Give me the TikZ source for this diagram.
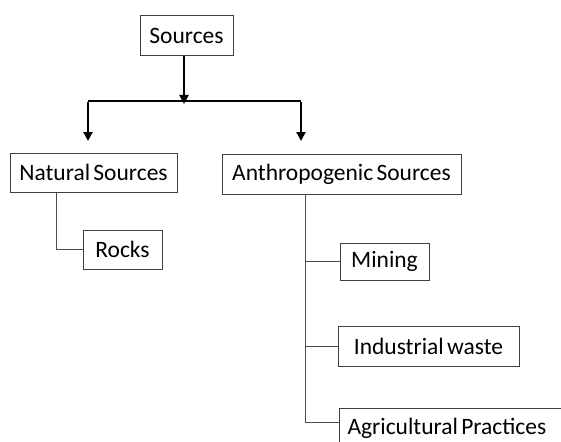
\documentclass[tikz,border=0pt]{standalone}
\usepackage{fontspec}
\setmainfont{Carlito}
\usetikzlibrary{arrows.meta}
\newcommand{\boxfont}{\fontsize{23.5}{25}\selectfont\spaceskip=0.14em\relax}
\begin{document}
\begin{tikzpicture}[x=1pt,y=-1pt,
  box/.style={draw=black!75,line width=1pt,font=\boxfont,inner sep=0pt,text=black},
  thick arrow/.style={line width=2.4pt,-{Triangle[length=9pt,width=9pt]}},
  link/.style={draw=black!70,line width=1pt}]
\useasboundingbox (0,0) rectangle (561,441);
\clip (0,0) rectangle (561,441);
\node[box,minimum width=93pt,minimum height=40pt] (src) at (186.5,36) {Sources};
\node[box,minimum width=167pt,minimum height=39pt] (nat) at (93.5,172.5) {Natural Sources};
\node[box,minimum width=239pt,minimum height=40pt] (anth) at (341.5,174) {Anthropogenic Sources};
\node[box,minimum width=79pt,minimum height=39pt] (rocks) at (122.5,249.5) {Rocks};
\node[box,minimum width=89pt,minimum height=37pt] (mining) at (384.5,261.5) {Mining};
\node[box,minimum width=181pt,minimum height=40pt] (ind) at (428.5,346) {Industrial waste};
\node[box,minimum width=240pt,minimum height=40pt,anchor=north west] (agr) at (339,408) {\makebox[232pt][l]{\hspace*{4pt}Agricultural Practices}};
\coordinate (split) at (184,101);
\coordinate (natin) at (88,141);
\coordinate (anthin) at (301,141);
\draw[thick arrow] (src.south -| split) -- ([yshift=-3pt]split);
\draw[line width=2.4pt] (natin |- split) -- (anthin |- split);
\draw[thick arrow] ([yshift=-1.2pt]natin |- split) -- (natin);
\draw[thick arrow] ([yshift=-1.2pt]anthin |- split) -- (anthin);
\coordinate (nx) at (56,0);
\coordinate (ax) at (305,0);
\draw[link] (nat.south -| nx) |- (rocks.west);
\draw[link] (anth.south -| ax) |- (agr.west |- 0,422);
\draw[link] (ax |- mining.west) -- (mining.west);
\draw[link] (ax |- ind.west) -- (ind.west);
\end{tikzpicture}
\end{document}
